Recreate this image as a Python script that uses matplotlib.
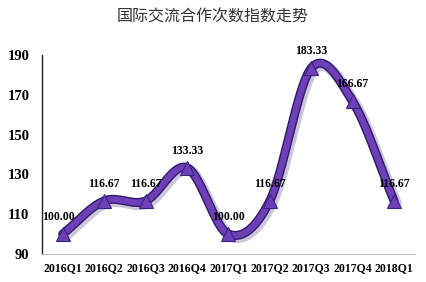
import matplotlib
matplotlib.use("Agg")
import matplotlib.pyplot as plt
import matplotlib.patheffects as pe
import numpy as np

categories = ["2016Q1", "2016Q2", "2016Q3", "2016Q4", "2017Q1",
              "2017Q2", "2017Q3", "2017Q4", "2018Q1"]
values = [100.00, 116.67, 116.67, 133.33, 100.00, 116.67, 183.33, 166.67, 116.67]
yticks = [90, 110, 130, 150, 170, 190]
title = "国际交流合作次数指数走势"


def smooth(xs, ys, n=30):
    # Catmull-Rom spline through the points (like a smoothed line in Excel)
    xs = np.asarray(xs, float)
    ys = np.asarray(ys, float)
    px = np.concatenate([[2 * xs[0] - xs[1]], xs, [2 * xs[-1] - xs[-2]]])
    py = np.concatenate([[2 * ys[0] - ys[1]], ys, [2 * ys[-1] - ys[-2]]])
    ox, oy = [], []
    for i in range(1, len(px) - 2):
        t = np.linspace(0, 1, n, endpoint=False)
        for p, o in ((px, ox), (py, oy)):
            p0, p1, p2, p3 = p[i - 1], p[i], p[i + 1], p[i + 2]
            o.extend(0.5 * (2 * p1 + (-p0 + p2) * t
                            + (2 * p0 - 5 * p1 + 4 * p2 - p3) * t ** 2
                            + (-p0 + 3 * p1 - 3 * p2 + p3) * t ** 3))
    ox.append(xs[-1])
    oy.append(ys[-1])
    return np.array(ox), np.array(oy)


fig = plt.figure(figsize=(4.26, 2.82), dpi=100)
ax = fig.add_axes([0.0986, 0.0993, 0.875, 0.706])

x = np.arange(len(categories))
sx, sy = smooth(x, values)

ax.plot(sx, sy, color="#6d40b8", linewidth=4.5, solid_capstyle="round", zorder=3,
        path_effects=[pe.SimpleLineShadow(offset=(1.5, -1.5), shadow_color="#a9a0c0", alpha=0.6, linewidth=8),
                      pe.Stroke(linewidth=6.5, foreground="#2e1a66"),
                      pe.Normal()])
ax.plot(x, values, linestyle="none", marker="^", markersize=10, color="#6d40b8",
        markeredgecolor="#3a2280", markeredgewidth=0.8, zorder=4)

label_font = dict(family="Liberation Serif", fontweight="bold", fontsize=8.5)
for i, v in enumerate(values):
    dx = -0.1 if i == 0 else 0
    ax.annotate(f"{v:.2f}", (x[i] + dx, v), xytext=(0, 8), textcoords="offset points",
                ha="center", va="bottom", zorder=5, **label_font)

ax.set_xlim(-0.5, len(categories) - 0.5)
ax.set_ylim(yticks[0], yticks[-1])
ax.set_yticks(yticks)
ax.set_xticks(x)
ax.set_xticklabels(categories, family="Liberation Serif", fontweight="bold", fontsize=8.5)
ax.set_yticklabels([str(t) for t in yticks], family="Liberation Serif", fontweight="bold", fontsize=10.5)
ax.tick_params(axis="x", length=0, pad=6)
ax.tick_params(axis="y", length=0, pad=9)

ax.spines["top"].set_visible(False)
ax.spines["right"].set_visible(False)
ax.spines["left"].set_color("#222222")
ax.spines["left"].set_linewidth(1.0)
ax.spines["bottom"].set_color("#bbbbbb")

fig.text(0.5, 0.94, title, ha="center", va="center", fontsize=11.5,
         family=["Noto Sans CJK SC", "DejaVu Sans"], color="#333333")

plt.savefig("out.png", dpi=100)
plt.close()
